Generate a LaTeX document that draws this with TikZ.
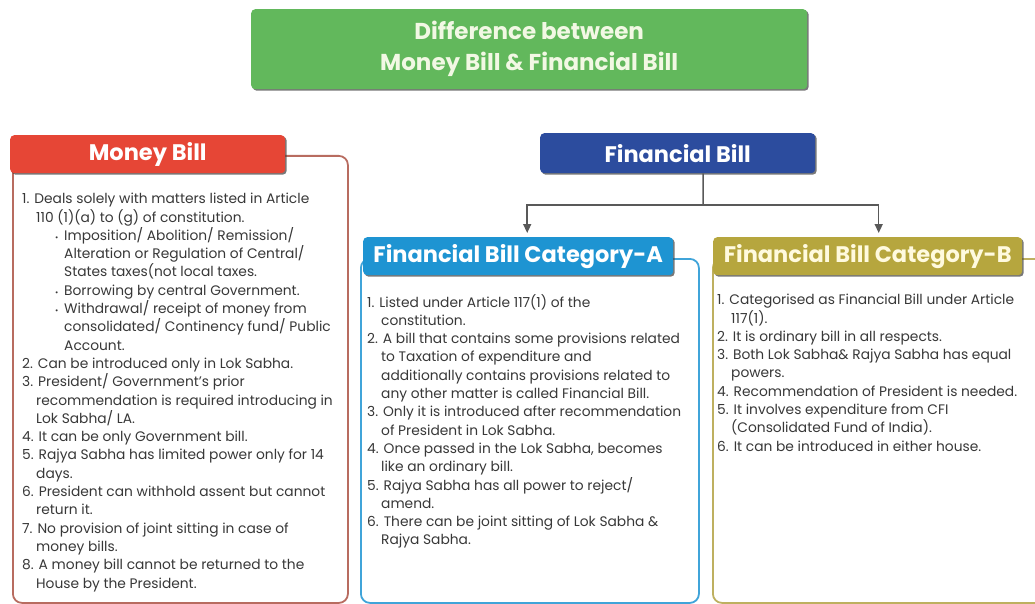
\documentclass[tikz,border=0pt]{standalone}
\usepackage{fontspec}
\setmainfont{Poppins}
\usetikzlibrary{arrows.meta,shadows,positioning}
\definecolor{titlegreen}{RGB}{98,184,92}
\definecolor{titletext}{RGB}{242,248,228}
\definecolor{moneyred}{RGB}{230,70,54}
\definecolor{moneyline}{RGB}{184,108,96}
\definecolor{finblue}{RGB}{44,76,158}
\definecolor{catablue}{RGB}{30,148,210}
\definecolor{catbolive}{RGB}{182,166,62}
\definecolor{catbline}{RGB}{190,176,96}
\definecolor{catbtext}{RGB}{255,250,222}
\tikzset{head/.style={rectangle, rounded corners=4pt, text=white, inner sep=0pt,
		font=\bfseries\fontsize{22.5}{24}\selectfont,
		drop shadow={shadow xshift=1.5pt, shadow yshift=-1.5pt, fill=black!75, opacity=0.7}},
	panel/.style={rectangle, rounded corners=9pt, line width=1.8pt, fill=white, inner sep=0pt},
	body/.style={align=left, inner sep=0pt, text=black!78, font=\fontsize{13.8}{18.3}\selectfont},
	conn/.style={draw=black!65, line width=1.5pt}
}
\newcommand{\ind}{\hspace*{14pt}}
\newcommand{\bul}{\hspace*{33pt}\makebox[9pt][l]{\footnotesize\textbullet}}
\newcommand{\bulc}{\hspace*{42pt}}
\begin{document}
\begin{tikzpicture}[x=1pt,y=1pt]
	\useasboundingbox (0,0) rectangle (1035,-604);
	\clip (0,0) rectangle (1035,-604);
	% title
	\node[head, fill=titlegreen, text=titletext, align=center, minimum width=556, minimum height=80,
		anchor=north west, font=\bfseries\fontsize{23}{31}\selectfont] (title) at (251,-9)
		{Difference between\\Money Bill \& Financial Bill};
	% money bill
	\node[panel, draw=moneyline, minimum width=335, minimum height=447, anchor=north west] (moneybox) at (12,-155) {};
	\node[head, fill=moneyred, minimum width=275, minimum height=38, anchor=north west] (moneyhead) at (10,-135) {Money Bill};
	\node[body, anchor=north west] (moneytext) at (22,-193) {1. Deals solely with matters listed in Article\\
		\ind 110 (1)(a) to (g) of constitution.\\
		\bul Imposition/ Abolition/ Remission/\\
		\bulc Alteration or Regulation of Central/\\
		\bulc States taxes(not local taxes.\\
		\bul Borrowing by central Government.\\
		\bul Withdrawal/ receipt of money from\\
		\bulc consolidated/ Continency fund/ Public\\
		\bulc Account.\\
		2. Can be introduced only in Lok Sabha.\\
		3. President/ Government's prior\\
		\ind recommendation is required introducing in\\
		\ind Lok Sabha/ LA.\\
		4. It can be only Government bill.\\
		5. Rajya Sabha has limited power only for 14\\
		\ind days.\\
		6. President can withhold assent but cannot\\
		\ind return it.\\
		7. No provision of joint sitting in case of\\
		\ind money bills.\\
		8. A money bill cannot be returned to the\\
		\ind House by the President.};
	% financial bill
	\node[head, fill=finblue, minimum width=275, minimum height=40, anchor=north west] (fin) at (540,-133) {Financial Bill};
	\node[panel, draw=catablue!85, minimum width=338, minimum height=344, anchor=north west] (catabox) at (360,-258) {};
	\node[head, fill=catablue, minimum width=310, minimum height=38, anchor=north west] (catahead) at (363,-237) {Financial Bill Category-A};
	\node[body, anchor=north west] (catatext) at (367,-294) {1. Listed under Article 117(1) of the\\
		\ind constitution.\\
		2. A bill that contains some provisions related\\
		\ind to Taxation of expenditure and\\
		\ind additionally contains provisions related to\\
		\ind any other matter is called Financial Bill.\\
		3. Only it is introduced after recommendation\\
		\ind of President in Lok Sabha.\\
		4. Once passed in the Lok Sabha, becomes\\
		\ind like an ordinary bill.\\
		5. Rajya Sabha has all power to reject/\\
		\ind amend.\\
		6. There can be joint sitting of Lok Sabha \&\\
		\ind Rajya Sabha.};
	\node[panel, draw=catbline, minimum width=340, minimum height=344, anchor=north west] (catbbox) at (712,-258) {};
	\node[head, fill=catbolive, text=catbtext, minimum width=309, minimum height=38, anchor=north west] (catbhead) at (713,-237) {Financial Bill Category-B};
	\node[body, anchor=north west] (catbtext) at (717,-294) {1. Categorised as Financial Bill under Article\\
		\ind 117(1).\\
		2. It is ordinary bill in all respects.\\
		3. Both Lok Sabha\& Rajya Sabha has equal\\
		\ind powers.\\
		4. Recommendation of President is needed.\\
		5. It involves expenditure from CFI\\
		\ind (Consolidated Fund of India).\\
		6. It can be introduced in either house.};
	% connectors
	\coordinate (split) at (703,-205);
	\draw[conn] ([xshift=25.5pt]fin.south) -- (split);
	\draw[conn, -{Triangle[width=8pt,length=9pt]}] (split) -| ([xshift=9pt,yshift=4pt]catahead.north);
	\draw[conn, -{Triangle[width=8pt,length=9pt]}] (split) -| ([xshift=11pt,yshift=4pt]catbhead.north);
\end{tikzpicture}
\end{document}
